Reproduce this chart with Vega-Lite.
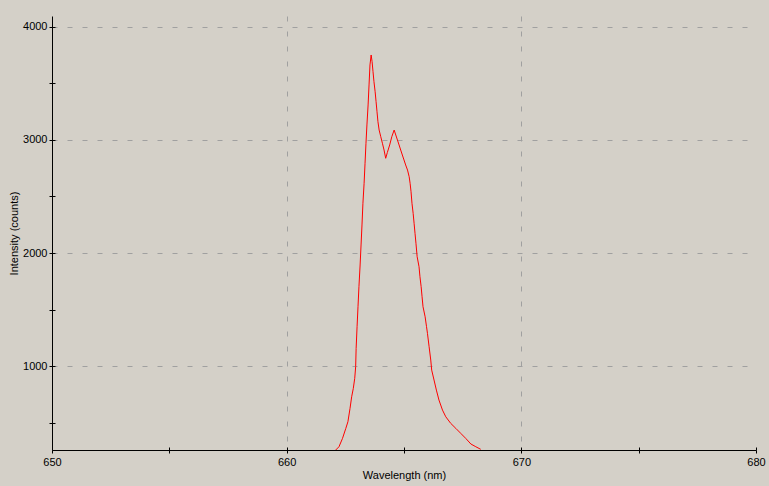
{
  "$schema": "https://vega.github.io/schema/vega-lite/v6.json",
  "width": 704,
  "height": 434,
  "autosize": "none",
  "padding": {"left": 52, "top": 16, "right": 13, "bottom": 36},
  "background": "#d4d0c8",
  "config": {
    "view": {"stroke": null, "fill": "#d4d0c8"},
    "font": "Liberation Sans",
    "axis": {
      "domainColor": "#000000",
      "domainWidth": 1,
      "tickColor": "#000000",
      "tickSize": 3,
      "labelFont": "Liberation Sans",
      "labelFontSize": 11,
      "labelColor": "#000000",
      "titleFont": "Liberation Sans",
      "titleFontSize": 11,
      "titleFontWeight": "normal",
      "titleColor": "#000000",
      "gridColor": "#a0a0a0",
      "gridDash": [5, 10],
      "gridWidth": 1
    }
  },
  "data": {
    "values": [
      {"wavelength": 662.09, "intensity": 257},
      {"wavelength": 662.23, "intensity": 286},
      {"wavelength": 662.38, "intensity": 360},
      {"wavelength": 662.52, "intensity": 448},
      {"wavelength": 662.61, "intensity": 507},
      {"wavelength": 662.70, "intensity": 625},
      {"wavelength": 662.77, "intensity": 728},
      {"wavelength": 662.84, "intensity": 802},
      {"wavelength": 662.90, "intensity": 891},
      {"wavelength": 662.94, "intensity": 994},
      {"wavelength": 662.96, "intensity": 1156},
      {"wavelength": 663.00, "intensity": 1348},
      {"wavelength": 663.04, "intensity": 1525},
      {"wavelength": 663.08, "intensity": 1702},
      {"wavelength": 663.13, "intensity": 1894},
      {"wavelength": 663.17, "intensity": 2071},
      {"wavelength": 663.21, "intensity": 2248},
      {"wavelength": 663.25, "intensity": 2440},
      {"wavelength": 663.30, "intensity": 2617},
      {"wavelength": 663.34, "intensity": 2794},
      {"wavelength": 663.38, "intensity": 2971},
      {"wavelength": 663.42, "intensity": 3133},
      {"wavelength": 663.47, "intensity": 3310},
      {"wavelength": 663.51, "intensity": 3487},
      {"wavelength": 663.55, "intensity": 3664},
      {"wavelength": 663.60, "intensity": 3752},
      {"wavelength": 663.64, "intensity": 3693},
      {"wavelength": 663.68, "intensity": 3604},
      {"wavelength": 663.72, "intensity": 3516},
      {"wavelength": 663.77, "intensity": 3427},
      {"wavelength": 663.81, "intensity": 3339},
      {"wavelength": 663.85, "intensity": 3250},
      {"wavelength": 663.89, "intensity": 3162},
      {"wavelength": 663.94, "intensity": 3088},
      {"wavelength": 664.01, "intensity": 3029},
      {"wavelength": 664.08, "intensity": 2971},
      {"wavelength": 664.15, "intensity": 2911},
      {"wavelength": 664.22, "intensity": 2838},
      {"wavelength": 664.29, "intensity": 2889},
      {"wavelength": 664.39, "intensity": 2956},
      {"wavelength": 664.48, "intensity": 3029},
      {"wavelength": 664.58, "intensity": 3088},
      {"wavelength": 664.65, "intensity": 3044},
      {"wavelength": 664.72, "intensity": 3000},
      {"wavelength": 664.79, "intensity": 2956},
      {"wavelength": 664.86, "intensity": 2911},
      {"wavelength": 664.93, "intensity": 2867},
      {"wavelength": 665.00, "intensity": 2823},
      {"wavelength": 665.07, "intensity": 2779},
      {"wavelength": 665.15, "intensity": 2734},
      {"wavelength": 665.22, "intensity": 2675},
      {"wavelength": 665.26, "intensity": 2617},
      {"wavelength": 665.30, "intensity": 2542},
      {"wavelength": 665.34, "intensity": 2440},
      {"wavelength": 665.39, "intensity": 2351},
      {"wavelength": 665.43, "intensity": 2263},
      {"wavelength": 665.47, "intensity": 2174},
      {"wavelength": 665.51, "intensity": 2086},
      {"wavelength": 665.56, "intensity": 1967},
      {"wavelength": 665.64, "intensity": 1879},
      {"wavelength": 665.68, "intensity": 1790},
      {"wavelength": 665.73, "intensity": 1702},
      {"wavelength": 665.77, "intensity": 1613},
      {"wavelength": 665.81, "intensity": 1525},
      {"wavelength": 665.90, "intensity": 1436},
      {"wavelength": 665.96, "intensity": 1348},
      {"wavelength": 666.00, "intensity": 1289},
      {"wavelength": 666.07, "intensity": 1171},
      {"wavelength": 666.14, "intensity": 1053},
      {"wavelength": 666.18, "intensity": 964},
      {"wavelength": 666.28, "intensity": 876},
      {"wavelength": 666.38, "intensity": 787},
      {"wavelength": 666.49, "intensity": 699},
      {"wavelength": 666.64, "intensity": 610},
      {"wavelength": 666.78, "intensity": 551},
      {"wavelength": 666.99, "intensity": 493},
      {"wavelength": 667.21, "intensity": 448},
      {"wavelength": 667.42, "intensity": 404},
      {"wavelength": 667.63, "intensity": 360},
      {"wavelength": 667.85, "intensity": 310},
      {"wavelength": 668.06, "intensity": 286},
      {"wavelength": 668.27, "intensity": 263}
    ]
  },
  "layer": [
    {
      "mark": {"type": "line", "color": "#ff0000", "strokeWidth": 1, "clip": true},
      "encoding": {
        "x": {
          "field": "wavelength",
          "type": "quantitative",
          "scale": {"domain": [650, 680], "nice": false, "zero": false},
          "axis": {
            "title": "Wavelength (nm)",
            "orient": "bottom",
            "values": [650, 655, 660, 665, 670, 675, 680],
            "labelExpr": "datum.value % 10 === 0 ? datum.label : ''",
            "labelPadding": 3,
            "labelFlush": false,
            "labelOverlap": false,
            "titlePadding": 2,
            "gridOpacity": {"condition": {"test": "datum.value % 10 === 0 && datum.value > 650 && datum.value < 680", "value": 1}, "value": 0}
          }
        },
        "y": {
          "field": "intensity",
          "type": "quantitative",
          "scale": {"domain": [257, 4097], "nice": false, "zero": false},
          "axis": {
            "title": "Intensity (counts)",
            "orient": "left",
            "values": [500, 1000, 1500, 2000, 2500, 3000, 3500, 4000],
            "labelExpr": "datum.value % 1000 === 0 ? datum.label : ''",
            "format": "d",
            "labelPadding": 2,
            "labelFlush": false,
            "labelOverlap": false,
            "titlePadding": 3,
            "gridOpacity": {"condition": {"test": "datum.value % 1000 === 0", "value": 1}, "value": 0}
          }
        }
      }
    },
    {
      "mark": {"type": "line", "opacity": 0, "clip": true},
      "encoding": {
        "x": {
          "field": "wavelength",
          "type": "quantitative",
          "axis": {
            "orient": "bottom",
            "title": null,
            "values": [650, 655, 660, 665, 670, 675, 680],
            "labels": false,
            "domain": false,
            "grid": false,
            "tickSize": -3
          }
        },
        "y": {
          "field": "intensity",
          "type": "quantitative",
          "axis": {
            "orient": "left",
            "title": null,
            "values": [500, 1000, 1500, 2000, 2500, 3000, 3500, 4000],
            "labels": false,
            "domain": false,
            "grid": false,
            "tickSize": -3
          }
        }
      }
    }
  ],
  "resolve": {"axis": {"x": "independent", "y": "independent"}}
}
